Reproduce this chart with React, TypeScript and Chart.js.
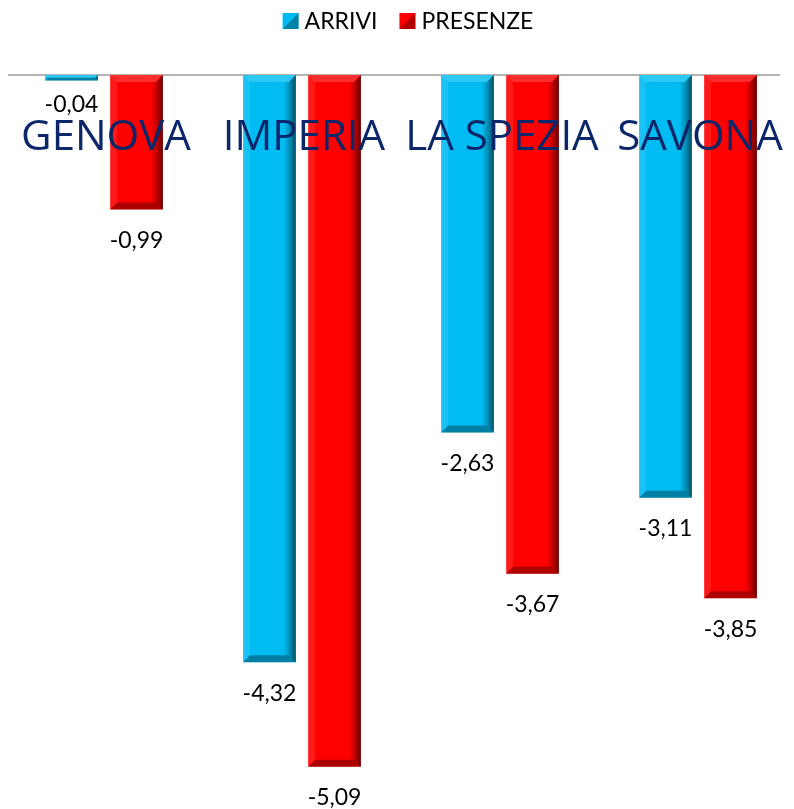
import React, { useEffect, useRef } from "react";
import { Chart, registerables } from "chart.js";
Chart.register(...registerables);

const categories = ["GENOVA", "IMPERIA", "LA SPEZIA", "SAVONA"];
const arrivi = [-0.04, -4.32, -2.63, -3.11];
const presenze = [-0.99, -5.09, -3.67, -3.85];
const seriesNames = ["ARRIVI", "PRESENZE"];
const seriesColors = ["#00BCF2", "#FF0000"];
const yMin = -5.4;
const yMax = 0;

const fmt = (v: number) => v.toFixed(2).replace(".", ",");

const bevelPlugin = {
  id: "bevel",
  beforeDatasetsDraw(chart: any) {
    const { ctx, chartArea, scales } = chart;
    const y0 = scales.y.getPixelForValue(0);
    ctx.save();
    ctx.strokeStyle = "#b4b4b4";
    ctx.lineWidth = 2;
    ctx.beginPath();
    ctx.moveTo(chartArea.left + 3, y0);
    ctx.lineTo(chartArea.right - 17, y0);
    ctx.stroke();
    ctx.restore();
  },
  afterDatasetsDraw(chart: any) {
    const { ctx } = chart;
    ctx.save();
    chart.data.datasets.forEach((ds: any, di: number) => {
      const meta = chart.getDatasetMeta(di);
      meta.data.forEach((el: any, i: number) => {
        const { x, y, base, width } = el.getProps(["x", "y", "base", "width"], true);
        const l = x - width / 2;
        const r = x + width / 2;
        const t = Math.min(y, base);
        const b = Math.max(y, base);
        const h = b - t;
        const s = Math.min(7, h / 2);
        // top bevel
        ctx.fillStyle = "rgba(255,255,255,0.18)";
        ctx.beginPath();
        ctx.moveTo(l, t); ctx.lineTo(r, t); ctx.lineTo(r - s, t + s); ctx.lineTo(l + s, t + s); ctx.closePath();
        ctx.fill();
        // left bevel
        ctx.fillStyle = "rgba(255,255,255,0.1)";
        ctx.beginPath();
        ctx.moveTo(l, t); ctx.lineTo(l + s, t + s); ctx.lineTo(l + s, b - s); ctx.lineTo(l, b); ctx.closePath();
        ctx.fill();
        // right shading
        const g = ctx.createLinearGradient(r - 12, 0, r, 0);
        g.addColorStop(0, "rgba(0,0,0,0)");
        g.addColorStop(0.5, "rgba(0,0,0,0.25)");
        g.addColorStop(1, "rgba(0,0,0,0.6)");
        ctx.fillStyle = g;
        ctx.beginPath();
        ctx.moveTo(r - 12, t + s); ctx.lineTo(r - s, t + s); ctx.lineTo(r, t); ctx.lineTo(r, b); ctx.lineTo(r - s, b - s); ctx.lineTo(r - 12, b - s); ctx.closePath();
        ctx.fill();
        // bottom bevel
        ctx.fillStyle = "rgba(0,0,0,0.32)";
        ctx.beginPath();
        ctx.moveTo(l, b); ctx.lineTo(r, b); ctx.lineTo(r - s, b - s); ctx.lineTo(l + s, b - s); ctx.closePath();
        ctx.fill();
        // value label
        ctx.fillStyle = "#000000";
        ctx.font = "23px Lato, 'Open Sans', sans-serif";
        ctx.textAlign = "center";
        ctx.textBaseline = "middle";
        ctx.fillText(fmt(ds.data[i]), x, b + (h < 10 ? 24 : 31));
      });
    });
    // category labels
    const xs = chart.scales.x;
    ctx.fillStyle = "#0c2769";
    ctx.font = "42px 'Open Sans', sans-serif";
    ctx.textAlign = "center";
    ctx.textBaseline = "middle";
    categories.forEach((c, i) => {
      ctx.fillText(c, xs.getPixelForValue(i) + 2, 138);
    });
    // legend
    ctx.font = "23px Lato, 'Open Sans', sans-serif";
    ctx.textBaseline = "middle";
    ctx.textAlign = "left";
    const box = 16, gapT = 6, gapI = 22;
    const widths = chart.data.datasets.map((d: any) => ctx.measureText(d.label).width);
    let total = 0;
    widths.forEach((w: number, i: number) => { total += box + gapT + w + (i < widths.length - 1 ? gapI : 0); });
    let lx = (chart.chartArea.left + chart.chartArea.right) / 2 + 7 - total / 2;
    const ly = 21;
    chart.data.datasets.forEach((d: any, i: number) => {
      ctx.fillStyle = d.backgroundColor;
      ctx.fillRect(lx, ly - box / 2, box, box);
      ctx.fillStyle = "rgba(0,0,0,0.3)";
      ctx.beginPath();
      ctx.moveTo(lx + box / 2, ly);
      ctx.lineTo(lx + box, ly - box / 2);
      ctx.lineTo(lx + box, ly + box / 2);
      ctx.lineTo(lx, ly + box / 2);
      ctx.closePath();
      ctx.fill();
      ctx.fillStyle = "#000000";
      ctx.fillText(d.label, lx + box + gapT, ly + 1);
      lx += box + gapT + widths[i] + gapI;
    });
    ctx.restore();
  },
};

export default function App() {
  const ref = useRef<HTMLCanvasElement | null>(null);
  useEffect(() => {
    if (!ref.current) return;
    const chart = new Chart(ref.current, {
      type: "bar",
      data: {
        labels: categories,
        datasets: [
          { label: seriesNames[0], data: arrivi, backgroundColor: seriesColors[0], borderWidth: 0 },
          { label: seriesNames[1], data: presenze, backgroundColor: seriesColors[1], borderWidth: 0 },
        ],
      },
      options: {
        responsive: false,
        animation: false,
        layout: { padding: { left: 5, right: 3, top: 75, bottom: 0 } },
        categoryPercentage: 0.657,
        barPercentage: 0.81,
        plugins: { legend: { display: false }, tooltip: { enabled: false } },
        scales: {
          x: { display: false, grid: { display: false } },
          y: { display: false, min: yMin, max: yMax, grid: { display: false } },
        },
      } as any,
      plugins: [bevelPlugin],
    });
    return () => chart.destroy();
  }, []);
  return (
    <div style={{ position: "absolute", left: 0, top: 0, width: 794, height: 809, overflow: "hidden", background: "#fff" }}>
      <canvas ref={ref} width={800} height={809} style={{ display: "block" }} />
    </div>
  );
}
